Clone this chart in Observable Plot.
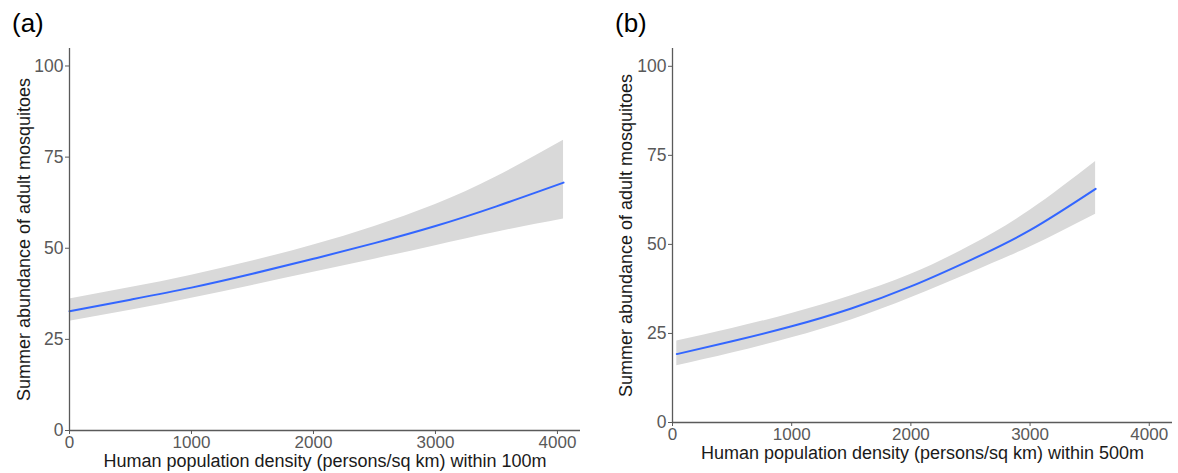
<!DOCTYPE html>
<html><head><meta charset="utf-8">
<script src="https://cdn.jsdelivr.net/npm/d3@7"></script>
<script src="https://cdn.jsdelivr.net/npm/@observablehq/plot@0.6"></script>
<style>
body{margin:0;background:#fff;font-family:"Liberation Sans",Arial,sans-serif;}
#wrap{position:relative;width:1178px;height:473px;overflow:hidden;background:#fff}
.panel{position:absolute;top:0}
.lab{position:absolute;font-size:26px;line-height:26px;color:#000;font-family:"Liberation Sans",Arial,sans-serif}
</style></head><body>
<div id="wrap">
  <div class="panel" id="pa" style="left:0px"></div>
  <div class="panel" id="pb" style="left:589px"></div>
  <div class="lab" style="left:12px;top:10px">(a)</div>
  <div class="lab" style="left:615px;top:10px">(b)</div>
</div>
<script>
// Panel (a): within 100m
const xA   = [0, 500, 1000, 1500, 2000, 2500, 3000, 3500, 4050];
const fitA = [32.7, 35.9, 39.2, 43.0, 47.1, 51.4, 56.1, 61.5, 68.0];
const upA  = [36.1, 39.2, 42.6, 46.5, 50.9, 56.0, 62.0, 69.6, 79.6];
const loA  = [30.0, 33.0, 36.3, 39.8, 43.4, 47.0, 50.7, 54.4, 58.0];

// Panel (b): within 500m
const xB   = [36, 500, 1000, 1500, 2000, 2500, 3000, 3550];
const fitB = [19.2, 22.8, 27.0, 32.0, 38.2, 45.6, 54.0, 65.6];
const upB  = [22.9, 26.4, 30.6, 35.6, 41.6, 49.6, 59.6, 73.3];
const loB  = [15.9, 19.5, 23.8, 28.8, 35.0, 42.0, 49.3, 58.5];

const xTicks = [0, 1000, 2000, 3000, 4000];
const yTicks = [0, 25, 50, 75, 100];
const yTitle = "Summer abundance of adult mosquitoes";
const xTitleA = "Human population density (persons/sq km) within 100m";
const xTitleB = "Human population density (persons/sq km) within 500m";

function panel(xs, fit, up, lo, xTitle, o) {
  const rows = xs.map((v, i) => ({x: v, fit: fit[i], up: up[i], lo: lo[i]}));
  return Plot.plot({
    width: 589, height: 473,
    marginLeft: o.ml, marginRight: o.mr, marginTop: 48, marginBottom: o.mb,
    style: {fontFamily: '"Liberation Sans", Arial, sans-serif', background: "transparent", overflow: "visible"},
    x: {domain: [0, o.xmax]},
    y: {domain: [0, o.ymax]},
    marks: [
      Plot.areaY(rows, {x: "x", y1: "lo", y2: "up", fill: "#d9d9d9", curve: "natural"}),
      Plot.lineY(rows, {x: "x", y: "fit", stroke: "#3366ff", strokeWidth: 2, curve: "natural"}),
      Plot.ruleX([0], {stroke: "#5a5a5a", strokeWidth: 1.3}),
      Plot.ruleY([0], {stroke: "#5a5a5a", strokeWidth: 1.3}),
      Plot.axisY(yTicks, {tickSize: 4, tickPadding: 2, fontSize: 17.5, color: "#595959", label: null}),
      Plot.axisX(xTicks, {tickSize: 4, tickPadding: 1.5, fontSize: 17, color: "#595959", label: null, tickFormat: d3.format("d")}),
      Plot.text([xTitle], {frameAnchor: "bottom", dy: o.xdy, fontSize: 18, fill: "#1a1a1a", textAnchor: "middle", lineAnchor: "middle"}),
      Plot.text([yTitle], {frameAnchor: "left", dx: o.ydx, rotate: -90, fontSize: 18, fill: "#1a1a1a", textAnchor: "middle", lineAnchor: "middle"})
    ]
  });
}

document.getElementById("pa").append(panel(xA, fitA, upA, loA, xTitleA,
  {ml: 69, mr: 9, mb: 43, xmax: 4189, ymax: 104.8, xdy: 31, ydx: -45}));
document.getElementById("pb").append(panel(xB, fitB, upB, loB, xTitleB,
  {ml: 83, mr: 6, mb: 51, xmax: 4195, ymax: 105, xdy: 31, ydx: -46}));
</script>
</body></html>
